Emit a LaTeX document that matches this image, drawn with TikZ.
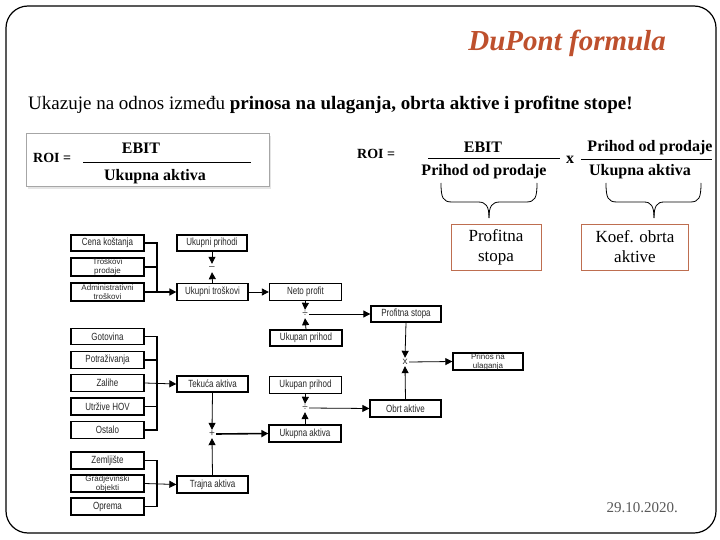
\documentclass[tikz,border=0pt]{standalone}
\usepackage{fontspec}
\setmainfont{Liberation Serif}
\newfontfamily\arialf{Liberation Sans}
\usetikzlibrary{arrows.meta}
\definecolor{titlec}{RGB}{190,80,45}
\definecolor{boxc}{RGB}{190,110,80}
\definecolor{datec}{RGB}{89,89,89}
\newcommand\bxt[1]{\scalebox{1}[1.3]{#1}}
\begin{document}
\begin{tikzpicture}[x=1pt,y=-1pt,
 fb/.style={draw, line width=1.3pt, minimum width=73pt, minimum height=17pt, inner sep=0pt, align=center, font=\arialf\fontsize{8}{9}\selectfont, text=black!85},
 arr/.style={line width=0.8pt, -{Triangle[length=7pt,width=7pt]}},
 tarr/.style={line width=1.6pt, -{Triangle[length=7pt,width=7pt]}},
 brk/.style={line width=1.5pt},
 op/.style={inner sep=0pt, minimum width=8pt, minimum height=8pt, font=\arialf\fontsize{10}{10}\selectfont, text=black!80},
 fml/.style={font=\bfseries\fontsize{16}{16}\selectfont, inner sep=0pt},
 obox/.style={draw=boxc, line width=0.9pt, align=center, font=\fontsize{17}{20}\selectfont}
]
\useasboundingbox (0,0) rectangle (720,540);
% frame
\draw[line width=1.2pt, rounded corners=22pt] (6,6) rectangle (716,533);
% title and subtitle
\node[anchor=base east, text=titlec, font=\bfseries\itshape\fontsize{29}{29}\selectfont, inner sep=0pt] (title) at (666,51) {DuPont formula};
\node[anchor=base west, font=\fontsize{19}{19}\selectfont, inner sep=0pt] (sub) at (28,110) {Ukazuje na odnos između \textbf{prinosa na ulaganja, obrta aktive i profitne stope!}};
% formula 1
\fill[gray!20] (28,136) rectangle (271,189);
\draw[gray!70, line width=1pt, fill=white] (26,134) rectangle (269,187);
\node[anchor=west, font=\bfseries\fontsize{14}{14}\selectfont, inner sep=0pt] (roi1) at (33,158) {ROI =};
\node[fml] (ebit1) at (141,148) {EBIT};
\draw[line width=0.8pt] (83,162) -- (251,162);
\node[fml] (ua1) at (155,177) {Ukupna aktiva};
% formula 2
\node[anchor=west, font=\bfseries\fontsize{14}{14}\selectfont, inner sep=0pt] (roi2) at (357,154) {ROI =};
\node[fml] (ebit2) at (483,147) {EBIT};
\draw[line width=0.8pt] (428,158) -- (560,158);
\node[fml] (pp1) at (484,172) {Prihod od prodaje};
\node[fml] (xx) at (570,160) {x};
\node[fml] (pp2) at (650,148) {Prihod od prodaje};
\draw[line width=0.8pt] (581,159) -- (712,159);
\node[fml] (ua2) at (640,172) {Ukupna aktiva};
% braces
\draw[line width=0.8pt] (441,183) .. controls (441,198) and (443,202) .. (452,202) -- (478,202) .. controls (486,202) and (489,206) .. (489,218);
\draw[line width=0.8pt] (537,183) .. controls (537,198) and (535,202) .. (526,202) -- (500,202) .. controls (492,202) and (489,206) .. (489,218);
\draw[line width=0.8pt] (606,183) .. controls (606,198) and (608,202) .. (617,202) -- (644,202) .. controls (651,202) and (654,206) .. (654,218);
\draw[line width=0.8pt] (701,183) .. controls (701,198) and (699,202) .. (690,202) -- (664,202) .. controls (657,202) and (654,206) .. (654,218);
\node[obox, minimum width=90pt, minimum height=46pt] (ps) at (496,247) {Profitna\\stopa};
\node[obox, minimum width=107pt, minimum height=46pt] (koa) at (635,247) {Koef. obrta\\aktive};
% flowchart boxes
\node[fb, minimum height=16pt] (cena) at (107.5,243) {\bxt{Cena koštanja}};
\node[fb, minimum height=18pt] (trosk) at (107.5,267) {Troškovi\\prodaje};
\node[fb, minimum height=18pt] (admin) at (107.5,292) {Administrativni\\troškovi};
\node[fb, minimum width=70pt, minimum height=16pt] (uprih) at (212,243) {\bxt{Ukupni prihodi}};
\node[fb, minimum width=71pt] (utros) at (212.5,292) {\bxt{Ukupni troškovi}};
\node[fb, minimum width=72pt] (neto) at (305.5,292) {\bxt{Neto profit}};
\node[fb, minimum width=70pt, minimum height=16pt] (pstopa) at (406,314) {\bxt{Profitna stopa}};
\node[fb, minimum width=72pt, minimum height=16pt] (uprih1) at (306,338) {\bxt{Ukupan prihod}};
\node[fb, minimum height=16pt] (gotov) at (107.5,336.5) {\bxt{Gotovina}};
\node[fb] (potr) at (107.5,360) {\bxt{Potraživanja}};
\node[fb] (zalihe) at (107.5,383) {\bxt{Zalihe}};
\node[fb] (hov) at (107.5,406.5) {\bxt{Utržive HOV}};
\node[fb] (ostalo) at (107.5,430) {\bxt{Ostalo}};
\node[fb, minimum width=71pt, minimum height=16pt] (tekuca) at (212.5,384) {\bxt{Tekuća aktiva}};
\node[fb, minimum width=72pt] (uprih2) at (305.5,385) {\bxt{Ukupan prihod}};
\node[fb, minimum width=71pt] (obrt) at (405.5,408.5) {\bxt{Obrt aktive}};
\node[fb, minimum width=70pt] (prinos) at (488,361.5) {Prinos na\\ulaganja};
\node[fb, minimum width=72pt] (uakt) at (305,433.5) {\bxt{Ukupna aktiva}};
\node[fb] (zemlj) at (107.5,460.5) {\bxt{Zemljište}};
\node[fb] (grad) at (107.5,483.5) {Gradjevinski\\objekti};
\node[fb] (oprema) at (107.5,506.5) {\bxt{Oprema}};
\node[fb, minimum width=71pt] (trajna) at (212.5,484.5) {\bxt{Trajna aktiva}};
% operators
\node[op] (minus) at (212,268) {–};
\node[op] (div1) at (305,314) {÷};
\node[op] (times) at (405,362) {x};
\node[op] (div2) at (305,408) {÷};
\node[op] (plus) at (212,434) {+};
% brackets
\coordinate (b1) at (157,243);
\coordinate (b2) at (157,336);
\coordinate (b3) at (157,460);
\draw[brk] (cena.east) -- (cena.east -| b1) -- (admin.east -| b1);
\draw[brk] (trosk.east) -- (trosk.east -| b1);
\draw[tarr] (admin.east) -- (utros.west);
\draw[brk] (gotov.east) -- (gotov.east -| b2) -- (ostalo.east -| b2) -- (ostalo.east);
\draw[brk] (potr.east) -- (potr.east -| b2);
\draw[brk] (hov.east) -- (hov.east -| b2);
\draw[arr] (zalihe.east) -- (tekuca.west);
\draw[brk] (zemlj.east) -- (zemlj.east -| b3) -- (oprema.east -| b3) -- (oprema.east);
\draw[arr] (grad.east) -- (trajna.west);
% arrows
\draw[arr] (uprih.south) -- (minus.north);
\draw[arr] (utros.north) -- (minus.south);
\draw[arr] (utros.east) -- (neto.west);
\draw[arr] (neto.south) -- (div1.north);
\draw[arr] (uprih1.north) -- (div1.south);
\draw[arr] (div1.east) -- (pstopa.west);
\draw[arr] (pstopa.south) -- (times.north);
\draw[arr] (obrt.north) -- (times.south);
\draw[arr] (times.east) -- (prinos.west);
\draw[arr] (uprih2.south) -- (div2.north);
\draw[arr] (uakt.north) -- (div2.south);
\draw[arr] (div2.east) -- (obrt.west);
\draw[arr] (tekuca.south) -- (plus.north);
\draw[arr] (trajna.north) -- (plus.south);
\draw[tarr] (plus.east) -- (uakt.west);
% date
\node[anchor=base east, text=datec, font=\fontsize{15}{15}\selectfont, inner sep=0pt] (date) at (678,512) {29.10.2020.};
\end{tikzpicture}
\end{document}
